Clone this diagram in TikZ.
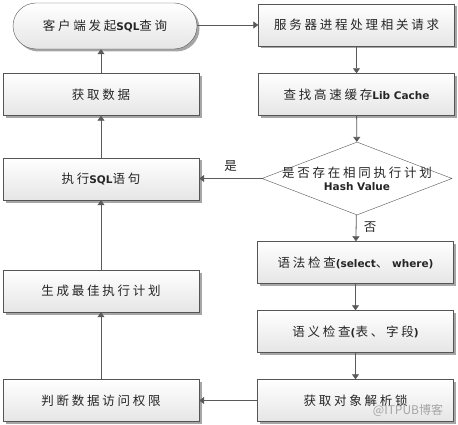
\documentclass[tikz,border=0pt]{standalone}
\usepackage{fontspec}
\setmainfont{Noto Sans CJK SC}[LetterSpace=22]
\newfontfamily\enfont{DejaVu Sans}
\newcommand\en[1]{{\enfont\bfseries\fontsize{10.5}{12}\selectfont #1}}
\usepackage{tikz}
\usetikzlibrary{shapes.geometric,shadows,arrows.meta}
\definecolor{edge}{RGB}{90,90,90}
\definecolor{boxline}{RGB}{85,85,85}
\begin{document}
\begin{tikzpicture}[x=1pt,y=-1pt,
        font=\fontsize{12.5}{15}\selectfont, text=black!85,
        stepbox/.style={draw=boxline, rectangle, minimum width=196pt, minimum height=42pt,
          inner sep=0pt, top color=white, bottom color=black!10,
          drop shadow={shadow xshift=2.5pt, shadow yshift=-2.5pt, fill=black!35, opacity=1}},
        startbox/.style={stepbox, minimum width=184pt, minimum height=46pt, rounded corners=23pt},
        decide/.style={draw=boxline, diamond, fill=white, minimum width=190pt, minimum height=73pt, inner sep=0pt},
        flow/.style={draw=edge, line width=0.8pt, -{Triangle[width=7pt,length=5pt]}}]
        \useasboundingbox (0,0) rectangle (458,425);
        \node[startbox] (start) at (105,26) {客户端发起\en{SQL}查询};
        \node[stepbox] (srv) at (356.5,25) {服务器进程处理相关请求};
        \node[stepbox] (lib) at (356.5,94.5) {查找高速缓存\en{Lib Cache}};
        \node[decide] (hv) at (357,178.5) {};
        \node[align=center, inner sep=0pt] (hvtext) at (357,178.5)
          {是否存在相同执行计划\\[-2pt]\en{Hash Value}};
        \node[stepbox] (syn) at (355.5,262.5) {语法检查\en{(select}、\en{ where)}};
        \node[stepbox] (sem) at (355.5,331.5) {语义检查\en{(}表、字段\en{)}};
        \node[stepbox] (lock) at (355.5,400.5) {获取对象解析锁};
        \node[stepbox] (perm) at (101,400.5) {判断数据访问权限};
        \node[stepbox] (plan) at (101,291) {生成最佳执行计划};
        \node[stepbox] (exec) at (101,179) {执行\en{SQL}语句};
        \node[stepbox] (fetch) at (101,94.5) {获取数据};
        \node[text=black!35, font=\fontsize{12}{14}\selectfont\addfontfeature{LetterSpace=0}] (wm) at (408,410) {@ITPUB博客};
        \draw[flow] (start.east |- srv.west) -- (srv.west);
        \draw[flow] (srv) -- (lib);
        \draw[flow] (lib) -- (hv);
        \draw[flow] (hv.west) -- node[above=3pt, pos=0.5] (yes) {是} (exec.east |- hv.west);
        \draw[flow] (hv) -- node[right=4pt, pos=0.45] (no) {否} (syn);
        \draw[flow] (syn) -- (sem);
        \draw[flow] (sem) -- (lock);
        \draw[flow] (lock) -- (perm);
        \draw[flow] (perm) -- (plan);
        \draw[flow] (plan) -- (exec);
        \draw[flow] (exec) -- (fetch);
        \draw[flow] (fetch.north) -- (fetch.north |- start.south);
\end{tikzpicture}
\end{document}
